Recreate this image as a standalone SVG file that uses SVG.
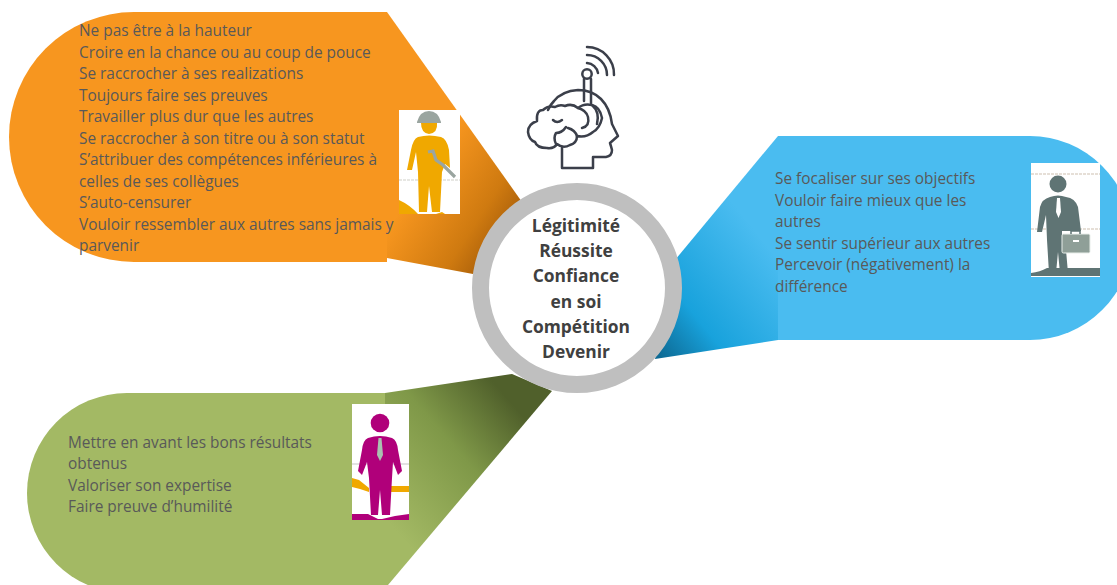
<svg xmlns="http://www.w3.org/2000/svg" width="1117" height="585" viewBox="0 0 1117 585">
<style>
.t{font-family:"Open Sans","Noto Sans","Liberation Sans",sans-serif;font-size:15.4px;fill:#595959}
.h{font-family:"Open Sans","Noto Sans","Liberation Sans",sans-serif;font-size:17.4px;font-weight:700;fill:#404040;text-anchor:middle}
.ic{fill:none;stroke:#3b3f4a;stroke-width:2.5;stroke-linecap:round;stroke-linejoin:round}
</style>
<defs>
<linearGradient id="go" gradientUnits="userSpaceOnUse" x1="510" y1="256" x2="412" y2="192"><stop offset="0" stop-color="#9c5608"/><stop offset=".4" stop-color="#cf7a10"/><stop offset="1" stop-color="#f7961f"/></linearGradient>
<linearGradient id="gb" gradientUnits="userSpaceOnUse" x1="660" y1="358" x2="780" y2="262"><stop offset="0" stop-color="#0d6a94"/><stop offset=".35" stop-color="#18a2dc"/><stop offset="1" stop-color="#4abcf0"/></linearGradient>
<linearGradient id="gg" gradientUnits="userSpaceOnUse" x1="507" y1="398" x2="378" y2="510"><stop offset="0" stop-color="#50602b"/><stop offset=".42" stop-color="#7f9848"/><stop offset="1" stop-color="#a3b964"/></linearGradient>
</defs>
<rect width="1117" height="585" fill="#fff"/>

<g id="connectors">
<path d="M387 12L522 202L473 274L387 258Z" fill="url(#go)"/>
<path d="M778 136L675 260L655 359L778 340Z" fill="url(#gb)"/>
<path d="M385 393L512 374L552 391L388 585H385Z" fill="url(#gg)"/>
</g>

<g id="node-orange">
<path d="M387 12H134A125 125 0 0 0 134 262H387Z" fill="#f7961f"/>
<rect x="399" y="110" width="61" height="104" fill="#fff"/>
<path d="M399 180H460" stroke="#cfcfc8" stroke-width="1.2" stroke-dasharray="3 1"/>
<path d="M399 200Q410 205 418 214H399ZM436 214L442 212L445 214Z" fill="#f0a800"/>
<path d="M417 122Q420 111 429 111Q438 111 441 122L441 123H417Z" fill="#9aa5a0"/>
<path d="M421 123H437Q438 133 429 134Q421 133 421 123Z" fill="#f0a800"/>
<path d="M418 137Q429 134 441 137Q447 139 449 150L450 168L445 164L442 172L440 212H432L429 186L427 212H419L418 172L416 152L412 170H407L411 150Q413 139 418 137Z" fill="#f0a800"/>
<path d="M428 152L433 151L436 160L443 165L455 177" stroke="#9aa5a0" stroke-width="3.2" fill="none"/>

<text class="t" x="79" y="36">Ne pas être à la hauteur</text>
<text class="t" x="79" y="58">Croire en la chance ou au coup de pouce</text>
<text class="t" x="79" y="79">Se raccrocher à ses realizations</text>
<text class="t" x="79" y="101">Toujours faire ses preuves</text>
<text class="t" x="79" y="122">Travailler plus dur que les autres</text>
<text class="t" x="79" y="144">Se raccrocher à son titre ou à son statut</text>
<text class="t" x="79" y="165">S’attribuer des compétences inférieures à</text>
<text class="t" x="79" y="187">celles de ses collègues</text>
<text class="t" x="79" y="208">S’auto-censurer</text>
<text class="t" x="79" y="230">Vouloir ressembler aux autres sans jamais y</text>
<text class="t" x="79" y="251">parvenir</text>
</g>

<g id="node-blue">
<path d="M778 136H1030A102 102 0 0 1 1030 340H778Z" fill="#4abcf0"/>
<rect x="1031" y="163" width="69" height="114" fill="#fff"/>
<path d="M1031 174H1100M1031 229H1100" stroke="#cdbfb0" stroke-width="1.2" stroke-dasharray="3 1"/>
<path d="M1031 276V273Q1040 272 1047 268H1100V276Z" fill="#5f7474"/>
<circle cx="1058" cy="184" r="8.500" fill="#5f7474"/>
<path d="M1050 197Q1058 194 1066 197Q1075 198 1078 207L1081 231H1062V236L1066 250L1068 273H1060L1058 252L1056 273H1049L1047 240L1046 215L1042 232H1037L1040 207Q1042 199 1050 197Z" fill="#5f7474"/>
<path d="M1057 198H1060L1061 212L1058.500 218L1056 212Z" fill="#fff"/>
<rect x="1062" y="234" width="28" height="19" rx="1.500" fill="#8f9f98" stroke="#e8eeea" stroke-width="1"/>
<path d="M1071 234V231H1080V234" fill="none" stroke="#5f7474" stroke-width="1.500"/>
<rect x="1073" y="240" width="6" height="2" fill="#fff"/>
<text class="t" x="775" y="184">Se focaliser sur ses objectifs</text>
<text class="t" x="775" y="206">Vouloir faire mieux que les</text>
<text class="t" x="775" y="227">autres</text>
<text class="t" x="775" y="249">Se sentir supérieur aux autres</text>
<text class="t" x="775" y="270">Percevoir (négativement) la</text>
<text class="t" x="775" y="292">différence</text>
</g>

<g id="node-green">
<path d="M385 393H127A100 100 0 0 0 127 593H385Z" fill="#a3b964"/>
<rect x="352" y="404" width="57" height="116" fill="#fff"/>
<path d="M352 464H409" stroke="#c8c8c8" stroke-width="1.2"/>
<path d="M352 478L359 480L369 488V492L360 489L352 487ZM391 486H409V492H391Z" fill="#f0a800"/>
<path d="M352 514H368L378 519H382L395 516L409 514V520H352Z" fill="#b0007a"/>
<circle cx="380" cy="423" r="9.300" fill="#b0007a"/>
<path d="M368 438Q380 434 392 438Q397 440 398 450L402 471L398 475L393 462L392 478L390 515H382L380 490L378 515H371L369 478L367 462L362 475L358 471L362 450Q363 440 368 438Z" fill="#b0007a"/>
<path d="M378.500 438H381.500L383 455L380 461L377 455Z" fill="#a9c0b0"/>
<text class="t" x="68" y="448">Mettre en avant les bons résultats</text>
<text class="t" x="68" y="469">obtenus</text>
<text class="t" x="68" y="491">Valoriser son expertise</text>
<text class="t" x="68" y="512">Faire preuve d’humilité</text>
</g>

<g id="node-hub">
<circle cx="577" cy="288" r="96.500" fill="#fff" stroke="#bfbfbf" stroke-width="17"/>
<text class="h" x="576" y="232">Légitimité</text>
<text class="h" x="576" y="257">Réussite</text>
<text class="h" x="576" y="282">Confiance</text>
<text class="h" x="576" y="308">en soi</text>
<text class="h" x="576" y="333">Compétition</text>
<text class="h" x="576" y="358">Devenir</text>
</g>

<g id="node-brain">
<path class="ic" d="M562 148V168H593V157H606Q612 156 612 150Q611 146 610 143L618 136L612 124Q610 108 601 99Q592 90 578 90Q562 91 554 101Q550 105 548 110"/>
<circle class="ic" cx="587" cy="74" r="4.700"/>
<path class="ic" d="M584 79V101M591 79V103"/>
<path class="ic" d="M587 47A27 27 0 0 1 614 75M587 55A20 20 0 0 1 607 75M587 63A12 12 0 0 1 598 73"/>
<path class="ic" d="M543 110Q536 110 537 121Q528 124 528 132Q529 140 535 142Q537 148 547 148Q554 149 557 144Q563 149 570 145Q577 143 577 136Q586 138 593 132Q600 128 602 118Q600 107 592 105Q584 103 578 108Q572 103 565 106Q560 104 555 107Q548 105 543 110Z"/>
<path class="ic" d="M577 136Q575 130 568 128M556 144Q553 138 556 133Q562 133 566 127M553 120Q557 124 562 120M578 108Q586 110 588 117Q590 126 582 128M592 105Q600 112 597 124"/>
</g>
</svg>
